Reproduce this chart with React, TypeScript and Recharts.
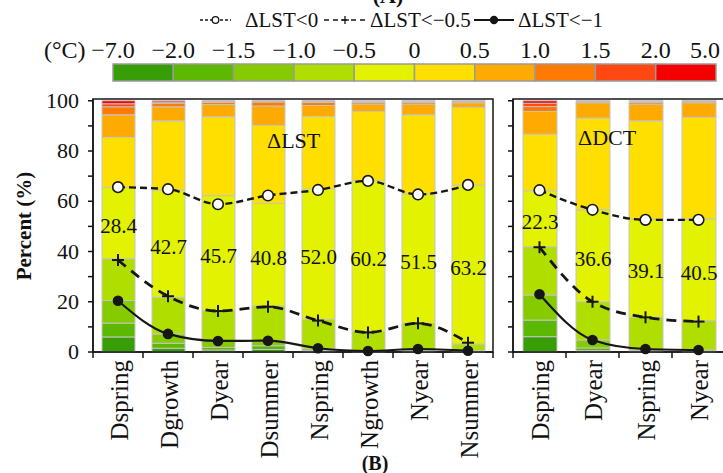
import React from 'react';
import { ComposedChart, Bar, Line, XAxis, YAxis, LabelList, ReferenceArea } from 'recharts';

const LST_SEASONS = ['Dspring', 'Dgrowth', 'Dyear', 'Dsummer', 'Nspring', 'Ngrowth', 'Nyear', 'Nsummer'];
const DCT_SEASONS = ['Dspring', 'Dyear', 'Nspring', 'Nyear'];

// class edges (°C) and the fill of each class, coolest first
const BIN_EDGES = ['−7.0', '−2.0', '−1.5', '−1.0', '−0.5', '0', '0.5', '1.0', '1.5', '2.0', '5.0'];
const BIN_COLORS = ['#389e08', '#5cb800', '#86cb00', '#b0de00', '#e2f200', '#ffdf00', '#ffaa00', '#ff7a00', '#ff4812', '#f40000'];

// percent of pixels in each class, one row per season
const LST_SHARES = [
  [6.0, 5.5, 9.0, 16.6, 28.4, 19.9, 9.0, 3.2, 1.2, 1.2],
  [1.5, 2.0, 3.7, 14.6, 42.7, 27.5, 5.6, 1.4, 0.5, 0.5],
  [0.8, 1.0, 2.4, 12.3, 45.7, 31.4, 4.9, 0.8, 0.5, 0.2],
  [1.0, 1.5, 2.0, 13.8, 40.8, 31.1, 7.7, 1.6, 0.3, 0.2],
  [0.3, 0.4, 0.8, 11.5, 52.0, 28.7, 4.4, 1.2, 0.5, 0.2],
  [0.1, 0.1, 0.2, 7.7, 60.2, 27.4, 3.0, 0.6, 0.4, 0.3],
  [0.2, 0.3, 0.7, 10.2, 51.5, 31.5, 4.3, 0.6, 0.4, 0.3],
  [0.1, 0.1, 0.3, 2.7, 63.2, 30.9, 1.9, 0.4, 0.2, 0.2],
];
const DCT_SHARES = [
  [6.1, 6.6, 10.0, 19.2, 22.3, 22.5, 9.0, 2.0, 1.3, 1.0],
  [0.6, 1.0, 3.2, 15.2, 36.6, 36.5, 6.1, 0.4, 0.3, 0.1],
  [0.2, 0.3, 0.7, 12.6, 39.1, 39.1, 6.7, 0.6, 0.4, 0.3],
  [0.1, 0.2, 0.5, 11.7, 40.5, 40.4, 5.8, 0.4, 0.2, 0.2],
];

// cumulative cooling percentages
const LST_BELOW_0 = [65.6, 64.8, 58.8, 62.3, 64.5, 68.1, 62.7, 66.5];
const LST_BELOW_HALF = [36.6, 22.2, 16.3, 18.0, 12.5, 7.8, 11.4, 3.7];
const LST_BELOW_1 = [20.4, 7.2, 4.4, 4.5, 1.5, 0.4, 1.2, 0.5];
const DCT_BELOW_0 = [64.4, 56.6, 52.6, 52.6];
const DCT_BELOW_HALF = [41.7, 20.0, 13.8, 12.1];
const DCT_BELOW_1 = [23.0, 4.8, 1.2, 0.8];

const PERCENT_TICKS = [0, 10, 20, 30, 40, 50, 60, 70, 80, 90, 100];

const Y_TOP = 100.7;
const INK = '#161616';
const SERIF = '"Liberation Serif", "Times New Roman", serif';

function buildRows(seasons: string[], shares: number[][], below0: number[], belowHalf: number[], belowOne: number[]) {
  return seasons.map((name, i) => {
    const row: Record<string, number | string> = {
      pos: i + 0.5,
      name,
      below0: below0[i],
      belowHalf: belowHalf[i],
      belowOne: belowOne[i],
    };
    shares[i].forEach((v, k) => {
      row['b' + k] = v;
    });
    return row;
  });
}

const openDot = (p: any) =>
  p.cx == null ? <g key={p.key} /> : (
    <circle key={p.key} cx={p.cx} cy={p.cy} r={5.3} fill="#fff" stroke={INK} strokeWidth={1.6} />
  );

const plusDot = (p: any) =>
  p.cx == null ? <g key={p.key} /> : (
    <g key={p.key} stroke={INK} strokeWidth={2}>
      <line x1={p.cx - 6} x2={p.cx + 6} y1={p.cy} y2={p.cy} />
      <line x1={p.cx} x2={p.cx} y1={p.cy - 6} y2={p.cy + 6} />
    </g>
  );

const solidDot = (p: any) =>
  p.cx == null ? <g key={p.key} /> : <circle key={p.key} cx={p.cx} cy={p.cy} r={5.3} fill={INK} />;

const shareLabel = (p: any) => (
  <text x={p.x + p.width / 2} y={p.y + p.height / 2 + 10} textAnchor="middle" fontSize={21} fill="#111">
    {Number(p.value).toFixed(1)}
  </text>
);

type PanelProps = {
  seasons: string[];
  shares: number[][];
  below0: number[];
  belowHalf: number[];
  belowOne: number[];
  width: number;
  axisWidth: number;
  barSize: number;
  withLabels: boolean;
};

function Panel({ seasons, shares, below0, belowHalf, belowOne, width, axisWidth, barSize, withLabels }: PanelProps) {
  const data = buildRows(seasons, shares, below0, belowHalf, belowOne);
  const ticks: number[] = [];
  for (let i = 0; i <= seasons.length * 2; i++) ticks.push(i / 2);

  // integer ticks sit between bars, half ticks carry the season names
  const seasonTick = (p: any) => {
    const v = p.payload.value;
    if (Number.isInteger(v)) {
      return <line x1={p.x} x2={p.x} y1={p.y} y2={p.y + 6} stroke={INK} strokeWidth={1.5} />;
    }
    return (
      <text
        transform={`translate(${p.x + 1},${p.y + 8}) rotate(-90)`}
        textAnchor="end"
        dominantBaseline="central"
        fontSize={25}
        fill="#111"
      >
        {seasons[Math.floor(v)]}
      </text>
    );
  };

  const percentTick = (p: any) =>
    withLabels && p.payload.value % 20 === 0 ? (
      <text x={p.x - 7} y={p.y + 7} textAnchor="end" fontSize={22} fill="#111">
        {p.payload.value}
      </text>
    ) : (
      <g />
    );

  return (
    <ComposedChart width={width} height={473} data={data} margin={{ top: 99, right: 10, bottom: 0, left: 0 }}>
      <XAxis
        dataKey="pos"
        type="number"
        domain={[0, seasons.length]}
        ticks={ticks}
        interval={0}
        height={121}
        tickSize={0}
        tickMargin={0}
        tickLine={false}
        axisLine={{ stroke: INK, strokeWidth: 1.5 }}
        tick={seasonTick}
      />
      <YAxis
        type="number"
        domain={[0, Y_TOP]}
        ticks={PERCENT_TICKS}
        interval={0}
        width={axisWidth}
        tickSize={5}
        tickLine={{ stroke: INK, strokeWidth: 1.5 }}
        axisLine={{ stroke: INK, strokeWidth: 1.5 }}
        tick={percentTick}
      />
      <ReferenceArea x1={0} x2={seasons.length} y1={0} y2={Y_TOP} fill="none" stroke={INK} strokeWidth={1.5} />
      {BIN_COLORS.map((color, k) => (
        <Bar
          key={k}
          dataKey={'b' + k}
          stackId="bins"
          fill={color}
          stroke="#c4c4c4"
          strokeWidth={1}
          barSize={barSize}
          isAnimationActive={false}
        >
          {k === 4 && <LabelList dataKey={'b' + k} content={shareLabel} />}
        </Bar>
      ))}
      <Line
        dataKey="below0"
        type="monotone"
        stroke={INK}
        strokeWidth={2.4}
        strokeDasharray="7 4"
        dot={openDot}
        isAnimationActive={false}
      />
      <Line
        dataKey="belowHalf"
        type="monotone"
        stroke={INK}
        strokeWidth={2.8}
        strokeDasharray="10 7"
        dot={plusDot}
        isAnimationActive={false}
      />
      <Line dataKey="belowOne" type="monotone" stroke={INK} strokeWidth={2.2} dot={solidDot} isAnimationActive={false} />
    </ComposedChart>
  );
}

function Header() {
  const boxLeft = 113;
  const boxW = 60.3;
  return (
    <svg width={723} height={96} style={{ position: 'absolute', left: 0, top: 0 }} fontFamily={SERIF}>
      <text x={388} y={3} textAnchor="middle" fontSize={22} fontWeight="bold" fill="#111">(A)</text>

      <g stroke={INK} strokeWidth={1.3}>
        <line x1={200} x2={231} y1={20} y2={20} strokeDasharray="3 2" />
        <circle cx={215.5} cy={20} r={3.3} fill="#fff" />
        <line x1={324} x2={366} y1={20} y2={20} strokeDasharray="5 4" />
        <line x1={341} x2={349} y1={20} y2={20} />
        <line x1={345} x2={345} y1={16} y2={24} />
        <line x1={474} x2={514} y1={20} y2={20} strokeWidth={1.8} />
        <circle cx={494} cy={20} r={3.5} fill={INK} />
      </g>
      <g fontSize={21} fill="#111">
        <text x={245} y={27}>ΔLST&lt;0</text>
        <text x={370} y={27}>ΔLST&lt;−0.5</text>
        <text x={518} y={27}>ΔLST&lt;−1</text>
      </g>

      <g fontSize={24} fill="#111">
        <text x={44} y={58}>(°C)</text>
        {BIN_EDGES.map((t, i) => (
          <text
            key={t}
            x={i === BIN_EDGES.length - 1 ? 720 : boxLeft + i * boxW}
            y={58}
            textAnchor={i === BIN_EDGES.length - 1 ? 'end' : 'middle'}
          >
            {t}
          </text>
        ))}
      </g>
      {BIN_COLORS.map((c, i) => (
        <rect key={c} x={boxLeft + i * boxW} y={64} width={boxW} height={17} fill={c} stroke="#9a9a9a" strokeWidth={1.5} />
      ))}
    </svg>
  );
}

export default function App() {
  return (
    <div
      style={{
        position: 'absolute',
        left: 0,
        top: 0,
        width: 723,
        height: 473,
        overflow: 'hidden',
        background: '#fff',
        fontFamily: SERIF,
      }}
    >
      <Header />
      <div style={{ position: 'absolute', left: 0, top: 0 }}>
        <Panel
          seasons={LST_SEASONS}
          shares={LST_SHARES}
          below0={LST_BELOW_0}
          belowHalf={LST_BELOW_HALF}
          belowOne={LST_BELOW_1}
          width={503}
          axisWidth={93}
          barSize={33}
          withLabels
        />
      </div>
      <div style={{ position: 'absolute', left: 473, top: 0 }}>
        <Panel
          seasons={DCT_SEASONS}
          shares={DCT_SHARES}
          below0={DCT_BELOW_0}
          belowHalf={DCT_BELOW_HALF}
          belowOne={DCT_BELOW_1}
          width={262}
          axisWidth={40}
          barSize={34}
          withLabels={false}
        />
      </div>
      <svg width={723} height={473} style={{ position: 'absolute', left: 0, top: 0, pointerEvents: 'none' }} fontFamily={SERIF}>
        <text transform="translate(31,226) rotate(-90)" textAnchor="middle" fontSize={21} fontWeight="bold" fill="#111">
          Percent (%)
        </text>
        <text x={267} y={148} fontSize={22} fill="#111">ΔLST</text>
        <text x={578} y={145} fontSize={22} fill="#111">ΔDCT</text>
        <text x={375} y={470} textAnchor="middle" fontSize={20} fontWeight="bold" fill="#111">(B)</text>
      </svg>
    </div>
  );
}
